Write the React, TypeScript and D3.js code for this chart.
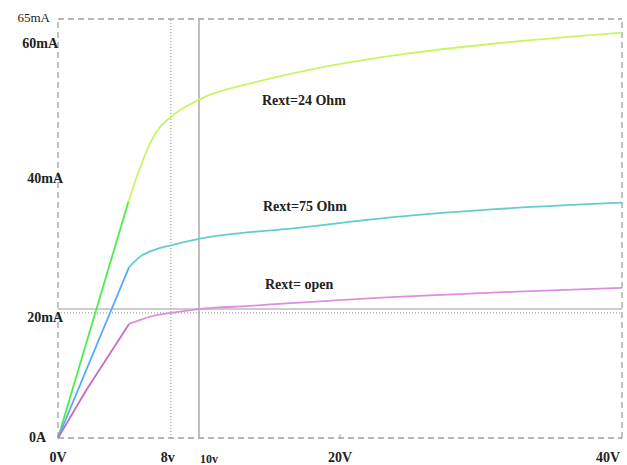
import * as d3 from 'd3';

// Axis values
const xDomain = [0, 40];
const yDomain = [0, 65];
const cursorV = [8, 10];
const gridI = 20;
const cursorI = 19.4;

// Rext=24 Ohm
const greenV1 = [0, 5.0];
const greenI1 = [0, 36.7];
const greenV2 = [5.0, 5.6, 6.3, 7.0, 8, 10, 14, 18, 24, 31, 40];
const greenI2 = [36.7, 40.6, 44.6, 47.6, 49.8, 52.5, 55.2, 57.2, 59.4, 61.2, 62.9];

// Rext=75 Ohm
const cyanV1 = [0, 5.04];
const cyanI1 = [0, 26.5];
const cyanV2 = [5.04, 5.8, 7.0, 8, 10, 17, 24, 31, 40];
const cyanI2 = [26.5, 28.1, 29.3, 29.9, 30.9, 32.6, 34.3, 35.5, 36.5];

// Rext= open
const magV1 = [0, 2.0, 5.04];
const magI1 = [0, 7.4, 17.7];
const magV2 = [5.04, 6.5, 8, 10, 13.6, 24, 32.6, 40];
const magI2 = [17.7, 18.8, 19.4, 20.0, 20.5, 21.9, 22.7, 23.3];

const yLabels = [
  { v: 65, text: '65mA' },
  { v: 60, text: '60mA' },
  { v: 40, text: '40mA' },
  { v: 20, text: '20mA' },
  { v: 0, text: '0A' },
];
const xLabels = [
  { v: 0, text: '0V' },
  { v: 8, text: '8v' },
  { v: 10, text: '10v' },
  { v: 20, text: '20V' },
  { v: 40, text: '40V' },
];

export default function App() {
  document.body.style.margin = '0';
  const width = 627;
  const height = 465;
  const x = d3.scaleLinear().domain(xDomain).range([58, 622]);
  const y = d3.scaleLinear().domain(yDomain).range([438, 19]);

  const toPts = (vs: number[], is: number[]) => vs.map((v, i) => [v, is[i]] as [number, number]);
  const line = d3.line<[number, number]>().x(d => x(d[0])).y(d => y(d[1]));
  const curve = d3.line<[number, number]>().x(d => x(d[0])).y(d => y(d[1])).curve(d3.curveMonotoneX);

  const series = [
    { p1: toPts(greenV1, greenI1), p2: toPts(greenV2, greenI2), c1: '#4cee4c', c2: '#c8f564' },
    { p1: toPts(cyanV1, cyanI1), p2: toPts(cyanV2, cyanI2), c1: '#55aaff', c2: '#66cccc' },
    { p1: toPts(magV1, magI1), p2: toPts(magV2, magI2), c1: '#c46cc4', c2: '#dd8ee0' },
  ];

  const font = '"Liberation Serif", "DejaVu Serif", serif';
  const grey = '#a0a0a0';
  const yOff: Record<number, number> = { 65: 3, 60: -3, 40: 3, 20: 13, 0: 4 };
  const yEnd: Record<number, number> = { 65: 50, 60: 58, 40: 63, 20: 63, 0: 46 };
  const xOff: Record<number, number> = { 0: 0, 8: -3, 10: 10, 20: 0, 40: -14 };

  return (
    <svg width={width} height={height} style={{ display: 'block', background: '#fff' }}>
      {/* frame */}
      <g stroke={grey} strokeWidth={1.3} fill="none" strokeDasharray="6,4">
        <line x1={x(0)} x2={x(40)} y1={y(65)} y2={y(65)} />
        <line x1={x(0)} x2={x(40)} y1={y(0)} y2={y(0)} />
        <line x1={x(0)} x2={x(0)} y1={y(0)} y2={y(65)} />
        <line x1={x(40)} x2={x(40)} y1={y(0)} y2={y(65)} />
      </g>
      <line x1={x(20)} x2={x(20)} y1={y(0)} y2={y(0) - 4} stroke={grey} />
      {/* cursors */}
      <line x1={x(cursorV[0])} x2={x(cursorV[0])} y1={y(0)} y2={y(65)} stroke={grey} strokeWidth={1.2} strokeDasharray="1,2" />
      <line x1={x(cursorV[1])} x2={x(cursorV[1])} y1={y(0)} y2={y(65)} stroke="#aaa" strokeWidth={1.5} />
      <line x1={x(0)} x2={x(40)} y1={y(gridI)} y2={y(gridI)} stroke="#bbb" strokeWidth={1.5} />
      <line x1={x(0)} x2={x(40)} y1={y(cursorI)} y2={y(cursorI)} stroke={grey} strokeWidth={1.2} strokeDasharray="1,2" />

      {/* curves */}
      {series.map((s, i) => (
        <g key={i} fill="none" strokeWidth={1.8}>
          <path d={line(s.p1) ?? ''} stroke={s.c1} />
          <path d={curve(s.p2) ?? ''} stroke={s.c2} />
        </g>
      ))}

      {/* labels */}
      <g fontFamily={font} fontWeight="bold" fill="#222">
        {yLabels.map(l => (
          <text key={l.text} x={yEnd[l.v]} y={y(l.v) + yOff[l.v]}
            textAnchor="end" fontSize={l.v === 65 ? 13 : 14} fontWeight={l.v === 65 ? 'normal' : 'bold'}>
            {l.text}
          </text>
        ))}
        {xLabels.map(l => (
          <text key={l.text} x={x(l.v) + xOff[l.v]} y={l.v === 10 ? 463 : 462}
            textAnchor="middle" fontSize={l.v === 10 ? 12 : 14}>
            {l.text}
          </text>
        ))}
        <text x={262} y={105} fontSize={14}>Rext=24 Ohm</text>
        <text x={263} y={211} fontSize={14}>Rext=75 Ohm</text>
        <text x={265} y={289} fontSize={14}>Rext= open</text>
      </g>
    </svg>
  );
}
